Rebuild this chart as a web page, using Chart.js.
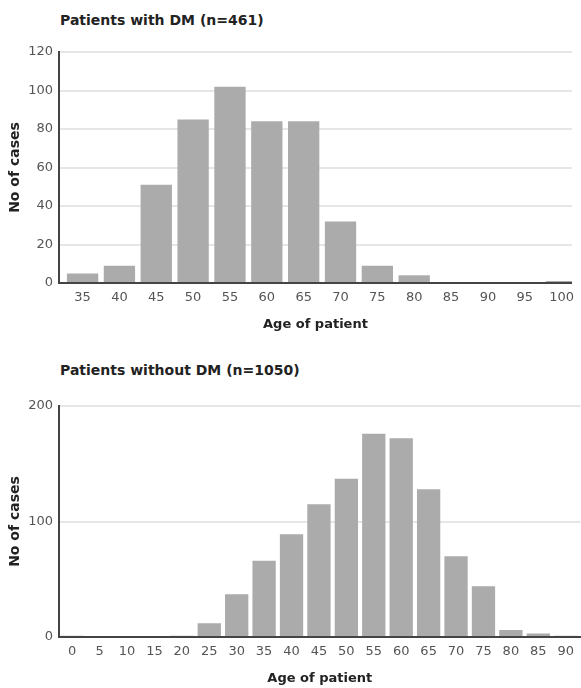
<!DOCTYPE html>
<html>
<head>
<meta charset="utf-8">
<script src="https://cdn.jsdelivr.net/npm/chart.js@4.4.0/dist/chart.umd.min.js"></script>
<style>
  body { margin: 0; width: 581px; height: 688px; background: #fff; position: relative; overflow: hidden; font-family: "DejaVu Sans", sans-serif; }
  .title { position: absolute; left: 60px; font-weight: bold; font-size: 14px; color: #222; }
  #wrapTop { position: absolute; left: 0; top: 0; width: 581px; height: 340px; }
  #wrapBottom { position: absolute; left: 0; top: 340px; width: 581px; height: 348px; }
</style>
</head>
<body>
<div class="title" style="top:12px">Patients with DM (n=461)</div>
<div class="title" style="top:362px">Patients without DM (n=1050)</div>
<div id="wrapTop"><canvas id="chartTop"></canvas></div>
<div id="wrapBottom"><canvas id="chartBottom"></canvas></div>
<script>
// age groups and case counts
var withAges = [35, 40, 45, 50, 55, 60, 65, 70, 75, 80, 85, 90, 95, 100];
var withCounts = [5, 9, 51, 85, 102, 84, 84, 32, 9, 4, 0, 0, 0, 1];
var withTicks = [0, 20, 40, 60, 80, 100, 120];

var withoutAges = [0, 5, 10, 15, 20, 25, 30, 35, 40, 45, 50, 55, 60, 65, 70, 75, 80, 85, 90];
var withoutCounts = [1, 0, 0, 0, 1, 12, 37, 66, 89, 115, 137, 176, 172, 128, 70, 44, 6, 3, 1];
var withoutTicks = [0, 100, 200];

var axisColor = '#444';
var gridColor = '#e6e6e6';
var barColor = '#ababab';
var fontName = 'DejaVu Sans';

function makeChart(id, ages, counts, yTicks, o) {
    var points = ages.map(function(a, i) { return {x: a, y: counts[i]}; });
    var yStep = yTicks[1] - yTicks[0];
    return new Chart(document.getElementById(id), {
        type: 'bar',
        data: {
            datasets: [{
                data: points,
                backgroundColor: barColor,
                borderWidth: 0,
                categoryPercentage: 1,
                barPercentage: 0.85
            }]
        },
        options: {
            responsive: true,
            maintainAspectRatio: false,
            animation: false,
            layout: { padding: { top: o.padTop, right: 0, bottom: 0, left: 0 } },
            plugins: { legend: { display: false }, tooltip: { enabled: false } },
            scales: {
                x: {
                    type: 'linear',
                    offset: false,
                    min: o.xMin,
                    max: o.xMax,
                    afterFit: function(s) { s.height = o.xHeight; },
                    grid: { display: false, drawTicks: false, offset: false },
                    border: { color: axisColor, width: 2 },
                    ticks: {
                        stepSize: 5,
                        includeBounds: false,
                        autoSkip: false,
                        maxRotation: 0,
                        padding: 7,
                        color: '#555',
                        font: { family: fontName, size: 13 },
                        callback: function(v) { return ages.indexOf(v) >= 0 ? String(v) : ''; }
                    },
                    title: {
                        display: true,
                        text: 'Age of patient',
                        color: '#222',
                        font: { family: fontName, size: 13, weight: 'bold' },
                        padding: { top: 0, bottom: o.xTitlePad }
                    }
                },
                y: {
                    min: yTicks[0],
                    max: yTicks[yTicks.length - 1],
                    afterFit: function(s) { s.width = 59; },
                    grid: { color: gridColor, lineWidth: 2, drawTicks: false },
                    border: { color: axisColor, width: 2 },
                    ticks: {
                        stepSize: yStep,
                        padding: 6,
                        color: '#555',
                        font: { family: fontName, size: 13 }
                    },
                    title: {
                        display: true,
                        text: 'No of cases',
                        color: '#222',
                        font: { family: fontName, size: 14, weight: 'bold' },
                        padding: { top: 7, bottom: 0 }
                    }
                }
            }
        }
    });
}

makeChart('chartTop', withAges, withCounts, withTicks,
    { xMin: 31.8, xMax: 101.4, padTop: 52, xHeight: 57, xTitlePad: 8 });
makeChart('chartBottom', withoutAges, withoutCounts, withoutTicks,
    { xMin: -2.4, xMax: 92.7, padTop: 66, xHeight: 51, xTitlePad: 2 });
</script>
</body>
</html>
